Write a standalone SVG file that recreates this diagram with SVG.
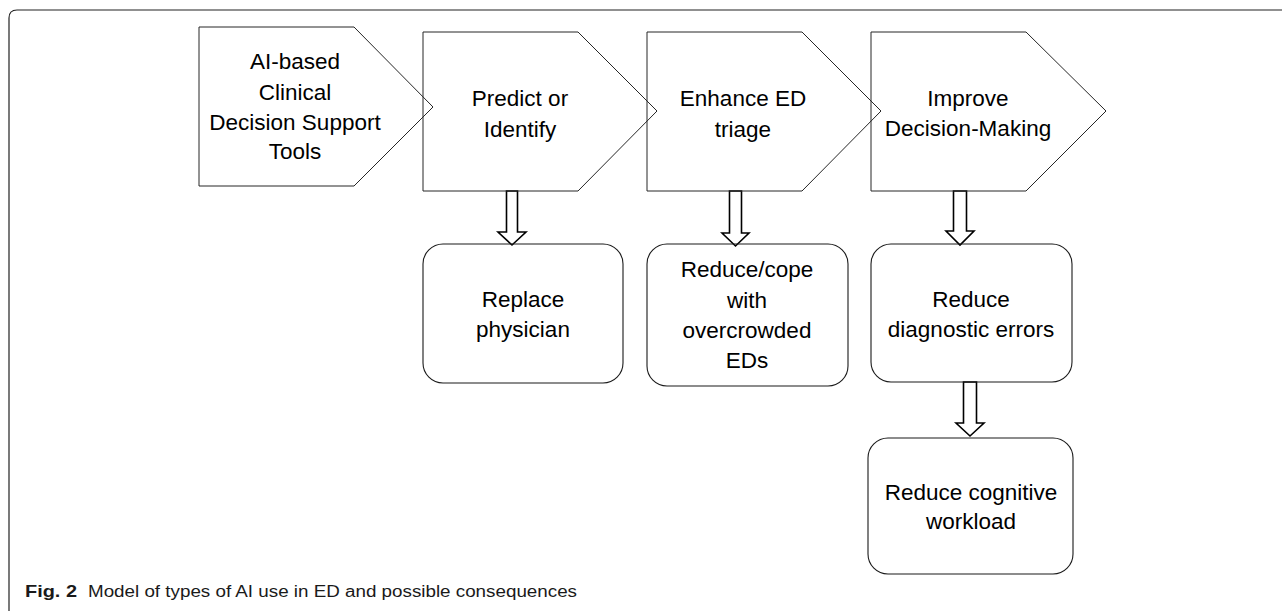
<svg xmlns="http://www.w3.org/2000/svg" width="1282" height="611" viewBox="0 0 1282 611">
<style>
.shape{fill:none;stroke:#262626;stroke-width:1}
.box{fill:none;stroke:#1a1a1a;stroke-width:1.1}
.arr{fill:#fff;stroke:#000;stroke-width:1.6;stroke-linejoin:miter}
.t{font-family:"Liberation Sans",Arial,sans-serif;font-size:22.5px;fill:#000;text-anchor:middle}
.cap{font-family:"Liberation Sans",Arial,sans-serif;font-size:16px;fill:#1a1a1a}
</style>
<rect width="1282" height="611" fill="#fff"/>
<path d="M9,611 V18 Q9,10 17,10 H1282" fill="none" stroke="#222" stroke-width="1.2"/>
<g id="connectors">
<polygon class="arr" points="506.5,191 517.5,191 517.5,232 526,232 512,245 498,232 506.5,232"/>
<polygon class="arr" points="729.5,191 741.5,191 741.5,233 749,233 735.5,246 722,233 729.5,233"/>
<polygon class="arr" points="953.5,191 966.5,191 966.5,231 974,231 960,245 946,231 953.5,231"/>
<polygon class="arr" points="963.5,382 976.5,382 976.5,423 984,423 970,436 956,423 963.5,423"/>
</g>
<g id="node-ai-cdss">
<polygon class="shape" points="199,27 354,27 433,107 354,186 199,186"/>
<text class="t" x="295" y="69">AI-based</text>
<text class="t" x="295" y="100">Clinical</text>
<text class="t" x="295" y="130">Decision Support</text>
<text class="t" x="295" y="159">Tools</text>
</g>
<g id="node-predict">
<polygon class="shape" points="423,32 578,32 657,111 578,191 423,191"/>
<text class="t" x="520" y="106">Predict or</text>
<text class="t" x="520" y="137">Identify</text>
</g>
<g id="node-triage">
<polygon class="shape" points="647,32 802,32 881,111 802,191 647,191"/>
<text class="t" x="743" y="106">Enhance ED</text>
<text class="t" x="743" y="137">triage</text>
</g>
<g id="node-decision">
<polygon class="shape" points="871,32 1026,32 1106,111 1026,191 871,191"/>
<text class="t" x="968" y="106">Improve</text>
<text class="t" x="968" y="136">Decision-Making</text>
</g>
<g id="node-replace">
<rect class="box" x="423" y="244" width="200" height="139" rx="20" ry="20"/>
<text class="t" x="523" y="307">Replace</text>
<text class="t" x="523" y="337">physician</text>
</g>
<g id="node-overcrowd">
<rect class="box" x="647" y="244" width="201" height="142" rx="20" ry="20"/>
<text class="t" x="747" y="277">Reduce/cope</text>
<text class="t" x="747" y="308">with</text>
<text class="t" x="747" y="338">overcrowded</text>
<text class="t" x="747" y="368">EDs</text>
</g>
<g id="node-diag">
<rect class="box" x="871" y="244" width="201" height="138" rx="20" ry="20"/>
<text class="t" x="971" y="307">Reduce</text>
<text class="t" x="971" y="337">diagnostic errors</text>
</g>
<g id="node-cognitive">
<rect class="box" x="868" y="438" width="205" height="136" rx="20" ry="20"/>
<text class="t" x="971" y="500">Reduce cognitive</text>
<text class="t" x="971" y="529">workload</text>
</g>
<g id="caption">
<text class="cap" x="25" y="597"><tspan font-weight="bold" font-size="17" textLength="52" lengthAdjust="spacingAndGlyphs">Fig. 2</tspan><tspan x="88" textLength="489" lengthAdjust="spacingAndGlyphs">Model of types of AI use in ED and possible consequences</tspan></text>
</g>
</svg>
